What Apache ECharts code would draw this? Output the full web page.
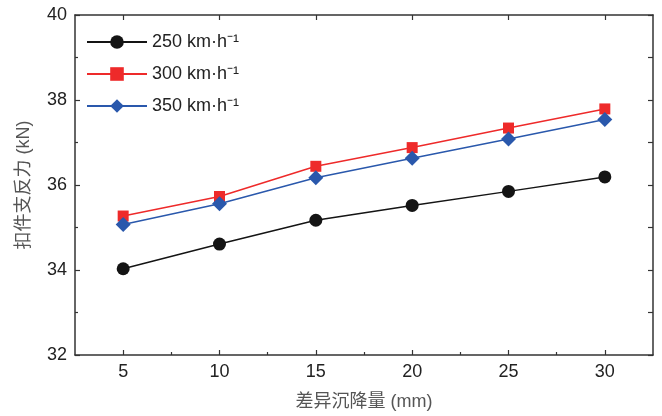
<!DOCTYPE html>
<html><head><meta charset="utf-8">
<script src="https://cdn.jsdelivr.net/npm/echarts@6/dist/echarts.min.js"></script>
<style>html,body{margin:0;padding:0;background:#fff}#c{width:662px;height:416px}</style>
</head><body><div id="c"></div>
<script>
const settlement = [5, 10, 15, 20, 25, 30];
const seriesNames = ['250 km·h⁻¹', '300 km·h⁻¹', '350 km·h⁻¹'];
const force250 = [34.03, 34.61, 35.17, 35.52, 35.85, 36.19];
const force300 = [35.27, 35.73, 36.44, 36.88, 37.34, 37.79];
const force350 = [35.07, 35.56, 36.17, 36.63, 37.08, 37.54];
const xMinorTicks = [7.5, 12.5, 17.5, 22.5, 27.5];
const xTitle = '差异沉降量 (mm)';
const yTitle = '扣件支反力 (kN)';

const font = '"Liberation Sans", Arial, "Noto Sans CJK SC", sans-serif';
const axisColor = '#333';
const pairs = v => settlement.map((x, i) => [x, v[i]]);

const chart = echarts.init(document.getElementById('c'), null, {renderer: 'canvas'});
const baseX = {type: 'value', min: 2.5, max: 32.5, splitLine: {show: false}};
chart.setOption({
  animation: false,
  backgroundColor: '#fff',
  grid: {left: 75, right: 9, top: 15, bottom: 60, containLabel: false},
  legend: {
    orient: 'vertical', left: 86, top: 33, padding: 0,
    itemWidth: 60, itemHeight: 17, itemGap: 14,
    textStyle: {fontFamily: font, fontSize: 18, color: '#222'},
    data: seriesNames
  },
  xAxis: [
    Object.assign({}, baseX, {
      position: 'bottom',
      name: xTitle, nameLocation: 'middle', nameGap: 38,
      nameTextStyle: {fontFamily: font, fontSize: 18, color: '#555'},
      axisLine: {show: true, lineStyle: {color: axisColor, width: 1.5}},
      axisTick: {show: true, inside: true, length: 5, customValues: settlement, lineStyle: {color: axisColor, width: 1.2}},
      axisLabel: {customValues: settlement, margin: 8, fontFamily: font, fontSize: 18, color: '#222'}
    }),
    Object.assign({}, baseX, {
      position: 'bottom',
      axisLine: {show: false},
      axisTick: {show: true, inside: true, length: 3, customValues: xMinorTicks, lineStyle: {color: axisColor, width: 1.2}},
      axisLabel: {show: false}
    }),
    Object.assign({}, baseX, {
      position: 'top',
      axisLine: {show: true, lineStyle: {color: axisColor, width: 1.5}},
      axisTick: {show: true, inside: true, length: 5, customValues: settlement, lineStyle: {color: axisColor, width: 1.2}},
      axisLabel: {show: false}
    })
  ],
  yAxis: [
    {
      type: 'value', min: 32, max: 40, interval: 2, position: 'left',
      name: yTitle, nameLocation: 'middle', nameGap: 42, nameRotate: 90,
      nameTextStyle: {fontFamily: font, fontSize: 18, color: '#555'},
      axisLine: {show: true, lineStyle: {color: axisColor, width: 1.5}},
      axisTick: {show: true, inside: true, length: 5, lineStyle: {color: axisColor, width: 1.2}},
      minorTick: {show: true, splitNumber: 2, length: 3, lineStyle: {color: axisColor, width: 1.2}},
      axisLabel: {margin: 8, fontFamily: font, fontSize: 18, color: '#222'},
      splitLine: {show: false}
    },
    {
      type: 'value', min: 32, max: 40, interval: 1, position: 'right',
      axisLine: {show: true, lineStyle: {color: axisColor, width: 1.5}},
      axisTick: {show: true, inside: true, length: 5, lineStyle: {color: axisColor, width: 1.2}},
      axisLabel: {show: false},
      splitLine: {show: false}
    }
  ],
  series: [
    {name: seriesNames[0], type: 'line', data: pairs(force250), symbol: 'circle', symbolSize: 13,
     itemStyle: {color: '#141414'}, lineStyle: {color: '#141414', width: 1.5}, z: 3},
    {name: seriesNames[1], type: 'line', data: pairs(force300), symbol: 'rect', symbolSize: 11,
     itemStyle: {color: '#ee2a2a'}, lineStyle: {color: '#ee2a2a', width: 1.5}, z: 4},
    {name: seriesNames[2], type: 'line', data: pairs(force350), symbol: 'diamond', symbolSize: 15,
     itemStyle: {color: '#2a58ac'}, lineStyle: {color: '#2a58ac', width: 1.5}, z: 5}
  ]
});
</script></body></html>
